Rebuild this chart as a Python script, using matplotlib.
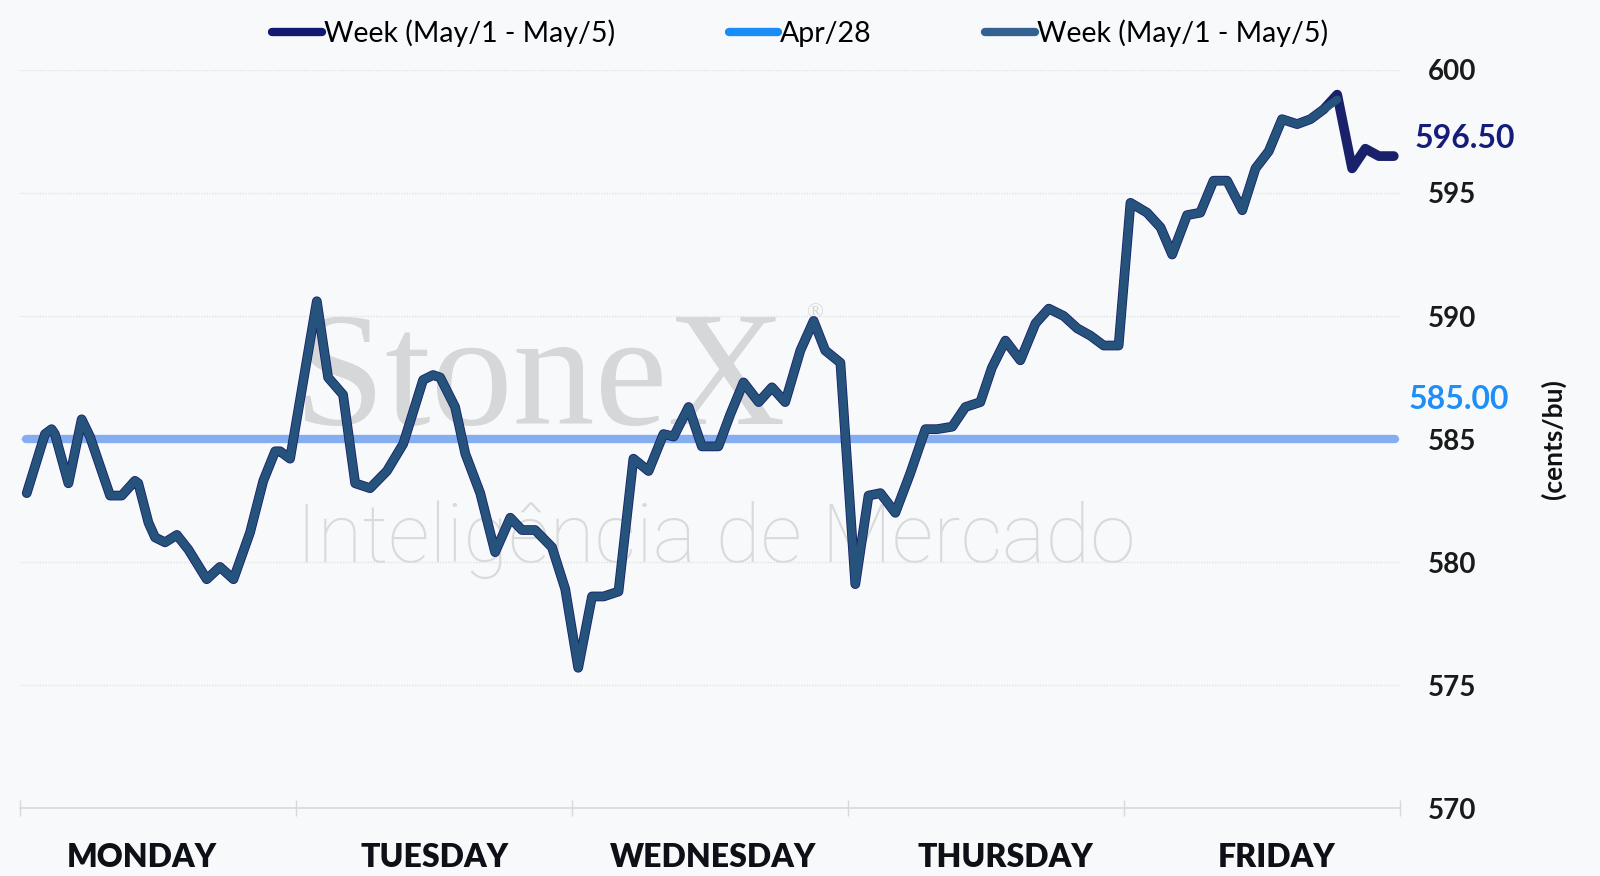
import matplotlib
matplotlib.use('Agg')
import matplotlib.pyplot as plt
from matplotlib.lines import Line2D

plt.rcParams['font.family'] = ['Lato', 'DejaVu Sans']

# ---------------- data ----------------
DAYS = ['MONDAY', 'TUESDAY', 'WEDNESDAY', 'THURSDAY', 'FRIDAY']
DAY_LABEL_POS = [0.44, 1.50, 2.51, 3.57, 4.55]
DAY_BOUNDS = [0, 1, 2, 3, 4, 5]
Y_TICKS = [570, 575, 580, 585, 590, 595, 600]

# x in trading-day units (0 = Monday open, 5 = Friday close)
WEEK_X = [0.023, 0.089, 0.113, 0.125, 0.174, 0.222, 0.252, 0.325, 0.367, 0.415,
          0.427, 0.464, 0.488, 0.524, 0.567, 0.609, 0.675, 0.723, 0.772, 0.832,
          0.880, 0.923, 0.941, 0.977, 1.074, 1.115, 1.169, 1.213, 1.267, 1.328,
          1.387, 1.459, 1.495, 1.521, 1.575, 1.612, 1.666, 1.720, 1.775, 1.817,
          1.865, 1.926, 1.974, 2.021, 2.071, 2.113, 2.167, 2.221, 2.276, 2.330,
          2.367, 2.421, 2.469, 2.529, 2.572, 2.620, 2.675, 2.723, 2.771, 2.826,
          2.874, 2.916, 2.971, 3.025, 3.073, 3.116, 3.170, 3.224, 3.279, 3.321,
          3.376, 3.424, 3.478, 3.520, 3.569, 3.623, 3.678, 3.726, 3.780, 3.829,
          3.877, 3.925, 3.979, 4.022, 4.082, 4.131, 4.173, 4.227, 4.275, 4.323,
          4.372, 4.427, 4.475, 4.523, 4.571, 4.626, 4.674, 4.722, 4.771, 4.825,
          4.873, 4.922, 4.976]
WEEK = [582.8, 585.2, 585.4, 585.2, 583.2, 585.8, 585.1, 582.7, 582.7, 583.3,
        583.2, 581.6, 581.0, 580.8, 581.1, 580.5, 579.3, 579.8, 579.3, 581.2,
        583.3, 584.5, 584.5, 584.2, 590.6, 587.5, 586.8, 583.2, 583.0, 583.7,
        584.8, 587.4, 587.6, 587.5, 586.3, 584.4, 582.8, 580.4, 581.8, 581.3,
        581.3, 580.6, 578.9, 575.7, 578.6, 578.6, 578.8, 584.2, 583.7, 585.2,
        585.1, 586.3, 584.7, 584.7, 586.0, 587.3, 586.5, 587.1, 586.5, 588.6,
        589.8, 588.6, 588.1, 579.1, 582.7, 582.8, 582.0, 583.6, 585.4, 585.4,
        585.5, 586.3, 586.5, 587.9, 589.0, 588.2, 589.7, 590.3, 590.0, 589.5,
        589.2, 588.8, 588.8, 594.6, 594.2, 593.6, 592.5, 594.1, 594.2, 595.5,
        595.5, 594.3, 596.0, 596.7, 598.0, 597.8, 598.0, 598.4, 599.0, 596.0,
        596.8, 596.5, 596.5]
# second series stops at the Friday high
WEEK_B_X = WEEK_X[:99]
WEEK_B = WEEK[:98] + [598.8]

APR28_X = [0.02, 4.98]
APR28 = [585.0, 585.0]

LAST_WEEK = '596.50'
LAST_APR = '585.00'

NAVY = '#18216a'
NAVY_LEG = '#111a70'
STEEL = '#25537c'
STEEL_LEG = '#34618f'
APR_LINE = '#85aef0'
APR_LEG = '#1a8cf5'
BG = '#f8f9fb'

# ---------------- figure ----------------
fig = plt.figure(figsize=(16, 8.76), dpi=100, facecolor=BG)
ax = fig.add_axes([0.01275, 0.0776, 0.8625, 0.8425], facecolor=BG)

# watermark
ax.text(0.99, 585.6, 'StoneX', family=['Liberation Serif', 'DejaVu Serif'],
        fontsize=118, color='#d6d7d9', ha='left', va='baseline', zorder=0.5)
ax.text(2.85, 590.1, '®', family=['Liberation Serif', 'DejaVu Serif'],
        fontsize=16, color='#d6d7d9', ha='left', va='center', zorder=0.5)
ax.text(1.0, 580.0, 'Inteligência de Mercado', family=['Roboto', 'DejaVu Sans'],
        fontweight='light', fontsize=59, color='#d9dadc', ha='left',
        va='baseline', zorder=0.5)

ax.plot(APR28_X, APR28, color=APR_LINE, lw=6, solid_capstyle='round', zorder=2)
ax.plot(WEEK_X, WEEK, color=NAVY, lw=7.0, solid_capstyle='round',
        solid_joinstyle='round', zorder=3)
ax.plot(WEEK_B_X, WEEK_B, color=STEEL, lw=5.8, solid_capstyle='round',
        solid_joinstyle='round', zorder=4)

ax.set_xlim(0, 5)
ax.set_ylim(570, 600)

for s in ['top', 'left', 'right']:
    ax.spines[s].set_visible(False)
ax.spines['bottom'].set_color('#d9d9d9')
ax.spines['bottom'].set_linewidth(1.2)

ax.set_xticks(DAY_BOUNDS)
ax.set_xticklabels([])
ax.tick_params(axis='x', which='major', direction='inout', length=12,
               width=1, color='#d9d9d9')
ax.set_xticks(DAY_LABEL_POS, minor=True)
ax.set_xticklabels(DAYS, minor=True, fontsize=23, fontweight='heavy',
                   color='#0d1117')
ax.tick_params(axis='x', which='minor', length=0, pad=25)

ax.yaxis.tick_right()
ax.set_yticks(Y_TICKS)
ax.set_yticklabels([str(v) for v in Y_TICKS], fontsize=20, fontweight='bold',
                   color='#1a1a1a')
ax.tick_params(axis='y', length=0, pad=20)
ax.grid(axis='y', color='#e1e2e4', lw=1, ls=(0, (1, 1)))
ax.set_axisbelow(True)

ax.yaxis.set_label_position('right')
ax.set_ylabel('(cents/bu)', fontsize=19, fontweight='bold', color='#111111',
              labelpad=46)

ax.text(5.05, 597.2, LAST_WEEK, color='#161c7a', fontsize=23,
        fontweight='bold', ha='left', va='center', clip_on=False)
ax.text(5.03, 586.6, LAST_APR, color='#1e8ff7', fontsize=23,
        fontweight='bold', ha='left', va='center', clip_on=False)

handles = [
    Line2D([0], [0], color=NAVY_LEG, lw=6, solid_capstyle='round',
           label='Week (May/1 - May/5)'),
    Line2D([0], [0], color=APR_LEG, lw=6, solid_capstyle='round',
           label='Apr/28'),
    Line2D([0], [0], color=STEEL_LEG, lw=6, solid_capstyle='round',
           label='Week (May/1 - May/5)'),
]
fig.legend(handles=handles, loc='center', bbox_to_anchor=(0.5, 0.962),
           ncol=3, frameon=False, fontsize=20.5, handlelength=1.75,
           handletextpad=0.05, columnspacing=4.0)

fig.savefig('out.png', dpi=100, facecolor=BG)
